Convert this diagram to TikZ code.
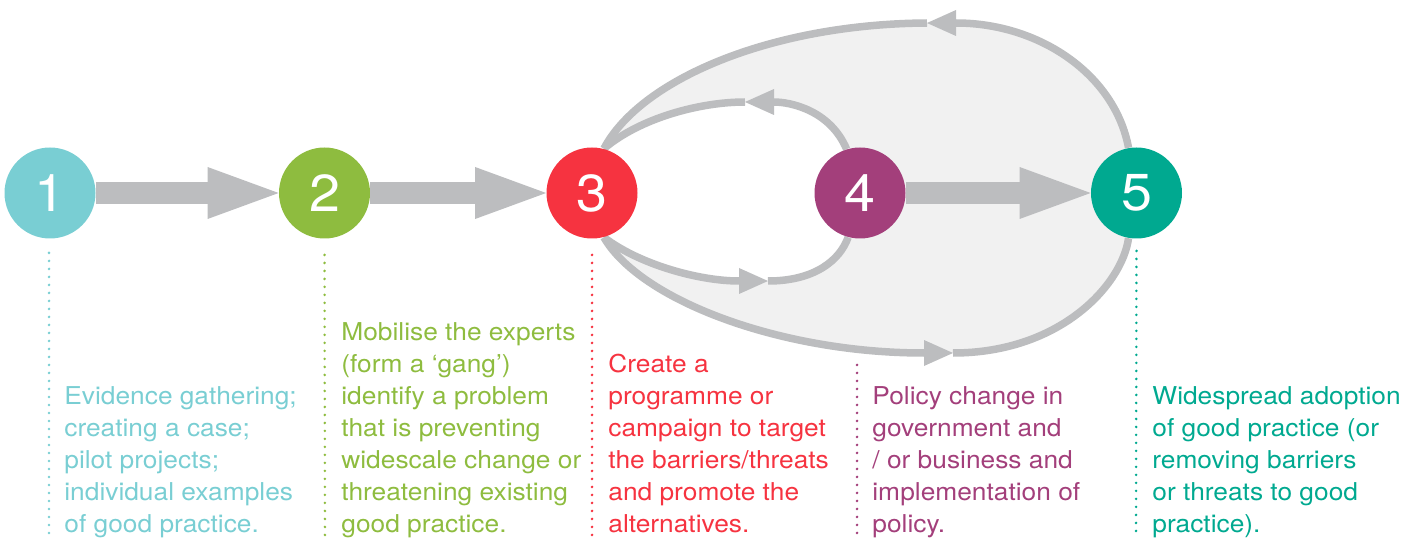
\documentclass[tikz,border=0pt]{standalone}
\usepackage{fontspec}
\setmainfont{TeX Gyre Heros}[FakeStretch=1.07]
\usetikzlibrary{arrows.meta,backgrounds}
\definecolor{stepone}{RGB}{121,206,211}
\definecolor{steptwo}{RGB}{142,188,63}
\definecolor{stepthree}{RGB}{246,51,64}
\definecolor{stepfour}{RGB}{163,63,123}
\definecolor{stepfive}{RGB}{0,169,144}
\definecolor{arrowgray}{RGB}{188,189,191}
\definecolor{loopfill}{RGB}{241,241,241}
\tikzset{
  stage/.style={circle,minimum size=45.5pt,inner sep=0pt,text=white,font=\fontsize{26}{30}\selectfont},
  bigarrow/.style={draw=arrowgray,line width=10.75pt,-{Triangle[length=35.5pt,width=26pt,line width=0pt]}},
  loopline/.style={draw=arrowgray,line width=3.75pt},
  looptip/.style={loopline,-{Triangle[length=14.5pt,width=13pt,line width=0pt]}},
  guide/.style={line width=1.4pt,line cap=round,dash pattern=on 0pt off 4pt},
  desc/.style={anchor=base west,align=left,inner sep=0pt,font=\fontsize{12.3}{16}\selectfont},
}

\begin{document}
\begin{tikzpicture}[x=0.5pt,y=-0.5pt]
\useasboundingbox (0,0) rectangle (1421,540);
% the five stages
\node[stage,fill=stepone] (c1) at (50,193) {1};
\node[stage,fill=steptwo] (c2) at (324.5,193) {2};
\node[stage,fill=stepthree] (c3) at (592,193) {3};
\node[stage,fill=stepfour] (c4) at (860,193) {4};
\node[stage,fill=stepfive] (c5) at (1136.5,193) {5};
% main arrows
\draw[bigarrow] (c1) -- (c2.west);
\draw[bigarrow] (c2) -- (c3.west);
\draw[bigarrow] (c4) -- (c5.west);
% feedback loops
\coordinate (ot) at (927,23);
\coordinate (ob) at (953,353);
\coordinate (it) at (745,102);
\coordinate (ib) at (768,281);
\begin{scope}[on background layer]
\fill[loopfill] (c3.75) .. controls (640,80) and (770,24) .. (ot) .. controls (1040,23) and (1115,75) .. (c5.100) -- (c5.-100) .. controls (1122,285) and (1060,353) .. (ob) .. controls (780,353) and (640,300) .. (c3.-75) -- cycle;
\fill[white] (c3.75) .. controls (640,118) and (700,102) .. (it) .. controls (790,102) and (830,110) .. (c4.107) -- (c4.-105) .. controls (840,260) and (815,281) .. (ib) .. controls (700,281) and (640,265) .. (c3.-75) -- cycle;
\draw[looptip] (c5.100) .. controls (1115,75) and (1040,23) .. (ot);
\draw[loopline] (ot) .. controls (770,24) and (640,80) .. (c3.75);
\draw[looptip] (c3.-75) .. controls (640,300) and (780,353) .. (ob);
\draw[loopline] (ob) .. controls (1060,353) and (1122,285) .. (c5.-100);
\draw[looptip] (c4.107) .. controls (830,110) and (790,102) .. (it);
\draw[loopline] (it) .. controls (700,102) and (640,118) .. (c3.75);
\draw[looptip] (c3.-75) .. controls (640,265) and (700,281) .. (ib);
\draw[loopline] (ib) .. controls (815,281) and (840,260) .. (c4.-105);
\end{scope}
% dotted guides
\coordinate (g1) at (49,537);
\coordinate (g2) at (325,537);
\coordinate (g3) at (592,537);
\coordinate (g4) at (857,537);
\coordinate (g5) at (1136,537);
\draw[guide,stepone] ([xshift=-0.5pt,yshift=-7pt]c1.south) -- (g1);
\draw[guide,steptwo] ([yshift=-8pt]c2.south) -- (g2);
\draw[guide,stepthree] ([yshift=-8pt]c3.south) -- (g3);
\draw[guide,stepfour] ([xshift=-1.5pt,yshift=-63pt]c4.south) -- (g4);
\draw[guide,stepfive] ([yshift=-6pt]c5.south) -- (g5);
% descriptions
\node[desc,text=stepone] (d1) at (64,532) {Evidence gathering;\\creating a case;\\pilot projects;\\individual examples\\of good practice.};
\node[desc,text=steptwo] (d2) at (341,532) {Mobilise the experts\\(form a ‘gang’)\\identify a problem\\that is preventing\\widescale change or\\threatening existing\\good practice.};
\node[desc,text=stepthree] (d3) at (608,532) {Create a\\programme or\\campaign to target\\the barriers/threats\\and promote the\\alternatives.};
\node[desc,text=stepfour] (d4) at (872,532) {Policy change in\\government and\\/ or business and\\implementation of\\policy.};
\node[desc,text=stepfive] (d5) at (1152,532) {Widespread adoption\\of good practice (or\\removing barriers\\or threats to good\\practice).};
\end{tikzpicture}
\end{document}
